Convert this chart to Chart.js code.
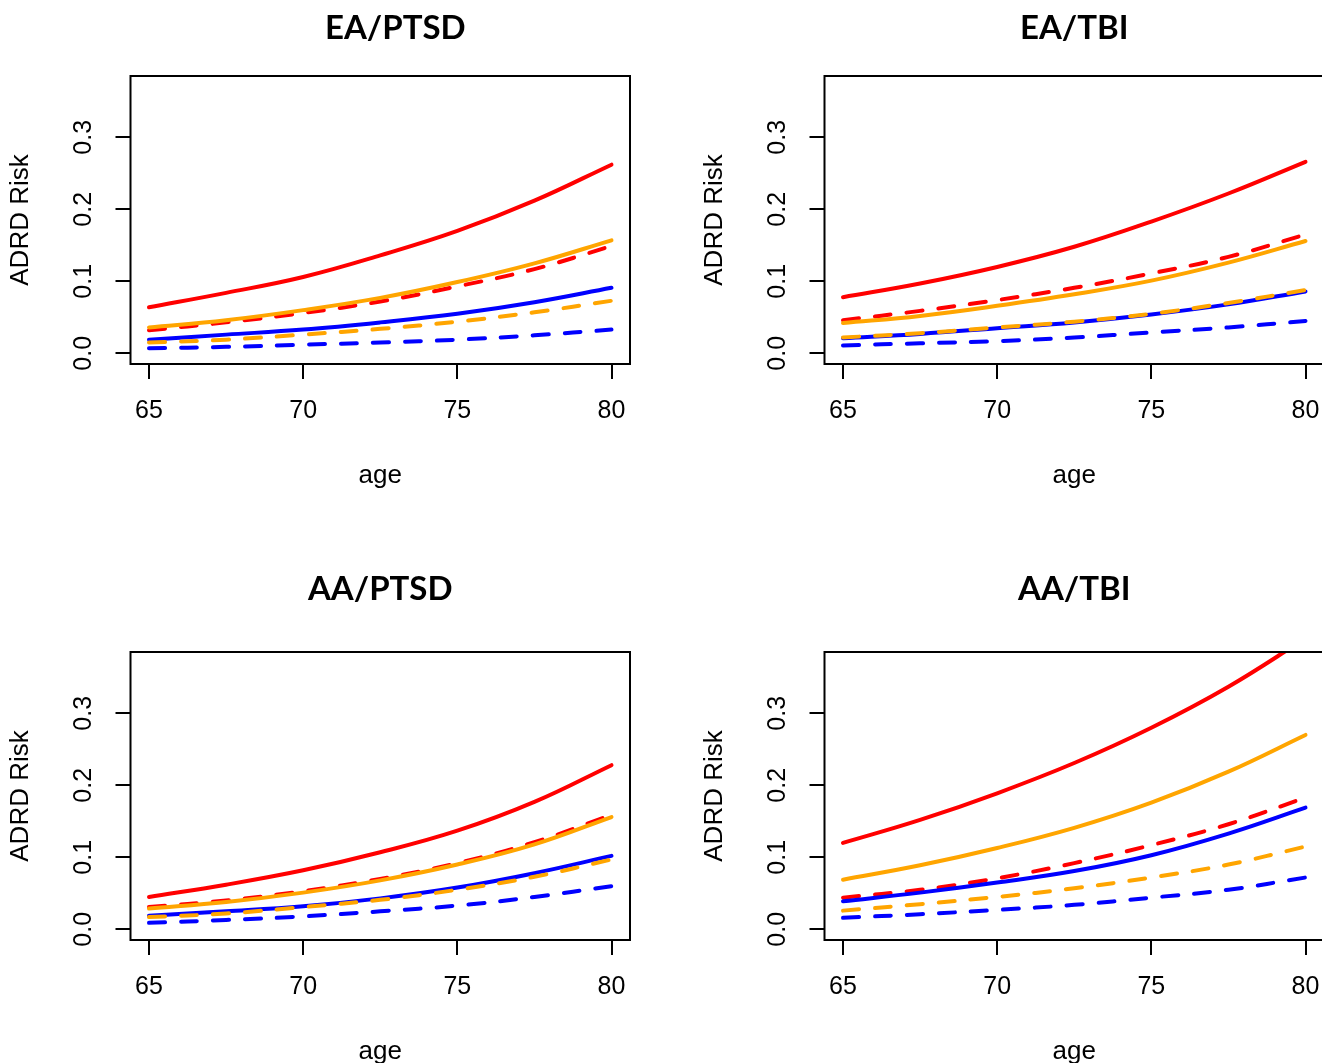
<!DOCTYPE html>
<html>
<head>
<meta charset="utf-8">
<script src="https://cdn.jsdelivr.net/npm/chart.js@4.4.1/dist/chart.umd.min.js"></script>
<style>
  html, body { margin: 0; padding: 0; background: #fff; overflow: hidden; }
  body { width: 1322px; height: 1063px; position: relative; }
  canvas { position: absolute; }
</style>
</head>
<body>
<canvas id="c1" width="661" height="576" style="left:0;top:0"></canvas>
<canvas id="c2" width="661" height="576" style="left:694px;top:0"></canvas>
<canvas id="c3" width="661" height="576" style="left:0;top:576px"></canvas>
<canvas id="c4" width="661" height="576" style="left:694px;top:576px"></canvas>
<script>
// ages the curves were read at
const ages = [65, 67.5, 70, 72.5, 75, 77.5, 80]
const xTicks = [65, 70, 75, 80]
const yTicks = [0, 0.1, 0.2, 0.3]
const panelTitles = ['EA/PTSD', 'EA/TBI', 'AA/PTSD', 'AA/TBI']

// EA/PTSD
const eaPtsdRed        = [0.064, 0.084, 0.106, 0.136, 0.170, 0.212, 0.262]
const eaPtsdRedDash    = [0.032, 0.043, 0.056, 0.072, 0.093, 0.117, 0.149]
const eaPtsdOrange     = [0.036, 0.046, 0.060, 0.077, 0.099, 0.125, 0.157]
const eaPtsdOrangeDash = [0.015, 0.019, 0.026, 0.034, 0.044, 0.057, 0.073]
const eaPtsdBlue       = [0.019, 0.026, 0.033, 0.043, 0.055, 0.071, 0.091]
const eaPtsdBlueDash   = [0.007, 0.009, 0.012, 0.015, 0.019, 0.025, 0.033]

// EA/TBI
const eaTbiRed        = [0.078, 0.097, 0.120, 0.148, 0.183, 0.222, 0.266]
const eaTbiRedDash    = [0.046, 0.059, 0.074, 0.091, 0.111, 0.134, 0.165]
const eaTbiOrange     = [0.042, 0.052, 0.066, 0.082, 0.101, 0.126, 0.156]
const eaTbiOrangeDash = [0.022, 0.028, 0.036, 0.044, 0.055, 0.070, 0.088]
const eaTbiBlue       = [0.021, 0.027, 0.035, 0.043, 0.054, 0.068, 0.086]
const eaTbiBlueDash   = [0.011, 0.014, 0.017, 0.022, 0.029, 0.036, 0.045]

// AA/PTSD
const aaPtsdRed        = [0.045, 0.062, 0.082, 0.107, 0.137, 0.177, 0.228]
const aaPtsdRedDash    = [0.031, 0.040, 0.053, 0.070, 0.092, 0.121, 0.159]
const aaPtsdOrange     = [0.029, 0.038, 0.051, 0.068, 0.090, 0.118, 0.156]
const aaPtsdOrangeDash = [0.017, 0.022, 0.031, 0.041, 0.055, 0.073, 0.097]
const aaPtsdBlue       = [0.019, 0.025, 0.032, 0.043, 0.058, 0.078, 0.102]
const aaPtsdBlueDash   = [0.009, 0.013, 0.018, 0.025, 0.033, 0.045, 0.060]

// AA/TBI
const aaTbiRed        = [0.120, 0.152, 0.189, 0.231, 0.280, 0.337, 0.404]
const aaTbiRedDash    = [0.044, 0.055, 0.071, 0.092, 0.117, 0.146, 0.183]
const aaTbiOrange     = [0.069, 0.089, 0.113, 0.141, 0.176, 0.219, 0.270]
const aaTbiOrangeDash = [0.026, 0.035, 0.045, 0.057, 0.072, 0.090, 0.115]
const aaTbiBlue       = [0.039, 0.051, 0.065, 0.081, 0.103, 0.133, 0.169]
const aaTbiBlueDash   = [0.016, 0.021, 0.027, 0.034, 0.044, 0.055, 0.072]

const RED = '#ff0000'
const ORANGE = '#ffa500'
const BLUE = '#0000ff'
const axisFont = 'Liberation Sans, Arial, sans-serif'

// panel title + full box around the plot region (R's box())
const panelDecor = {
  id: 'panelDecor',
  afterDraw(chart, args, opts) {
    const ctx = chart.ctx
    const a = chart.chartArea
    ctx.save()
    ctx.lineWidth = 2
    ctx.strokeStyle = '#000'
    ctx.strokeRect(a.left, a.top, a.right - a.left, a.bottom - a.top)
    ctx.font = 'bold 33px Lato, sans-serif'
    ctx.fillStyle = '#000'
    ctx.textAlign = 'center'
    ctx.textBaseline = 'middle'
    ctx.fillText(opts.text, (a.left + a.right) / 2 + opts.dx, opts.y)
    ctx.restore()
  }
}

function line(values, color, dashed) {
  return {
    data: ages.map((a, i) => ({ x: a, y: values[i] })),
    borderColor: color,
    borderWidth: 4,
    borderDash: dashed ? [16, 16] : [],
    borderCapStyle: 'round',
    borderJoinStyle: 'round',
    tension: 0.4,
    pointRadius: 0,
    fill: false
  }
}

function makeChart(id, title, dx, ty, s) {
  // first dataset is painted last (on top)
  const datasets = [
    line(s.orangeDash, ORANGE, true),
    line(s.orange, ORANGE, false),
    line(s.blueDash, BLUE, true),
    line(s.blue, BLUE, false),
    line(s.redDash, RED, true),
    line(s.red, RED, false)
  ]

  return new Chart(document.getElementById(id), {
    type: 'line',
    data: { datasets },
    plugins: [panelDecor],
    options: {
      responsive: false,
      animation: false,
      devicePixelRatio: 1,
      layout: { padding: { left: 0, top: 76, right: 31, bottom: 0 } },
      plugins: {
        legend: { display: false },
        tooltip: { enabled: false },
        panelDecor: { text: title, dx: dx, y: ty }
      },
      scales: {
        x: {
          type: 'linear',
          min: 64.4,
          max: 80.6,
          afterBuildTicks: sc => { sc.ticks = xTicks.map(v => ({ value: v })) },
          afterFit: sc => { sc.height = 212 },
          border: { display: false },
          grid: { drawOnChartArea: false, color: '#000', lineWidth: 2, tickLength: 15 },
          ticks: {
            color: '#000',
            font: { family: axisFont, size: 25 },
            padding: 17,
            maxRotation: 0,
            autoSkip: false
          },
          title: {
            display: true,
            text: 'age',
            color: '#000',
            font: { family: axisFont, size: 26 },
            padding: { top: 0, bottom: 85 }
          }
        },
        y: {
          type: 'linear',
          min: -0.0148,
          max: 0.3852,
          afterBuildTicks: sc => { sc.ticks = yTicks.map(v => ({ value: v })) },
          afterFit: sc => { sc.width = 130.5 },
          border: { display: false },
          grid: { drawOnChartArea: false, color: '#000', lineWidth: 2, tickLength: 15 },
          ticks: {
            color: '#000',
            font: { family: axisFont, size: 25 },
            padding: 14,
            minRotation: 90,
            maxRotation: 90,
            crossAlign: 'center',
            autoSkip: false,
            callback: v => v.toFixed(1)
          },
          title: {
            display: true,
            text: 'ADRD Risk',
            color: '#000',
            font: { family: axisFont, size: 26 },
            padding: { top: 5, bottom: 0 }
          }
        }
      }
    }
  })
}

function drawAll() {
  makeChart('c1', panelTitles[0], 15, 28, {
    red: eaPtsdRed, redDash: eaPtsdRedDash, orange: eaPtsdOrange,
    orangeDash: eaPtsdOrangeDash, blue: eaPtsdBlue, blueDash: eaPtsdBlueDash
  })
  makeChart('c2', panelTitles[1], 0, 28, {
    red: eaTbiRed, redDash: eaTbiRedDash, orange: eaTbiOrange,
    orangeDash: eaTbiOrangeDash, blue: eaTbiBlue, blueDash: eaTbiBlueDash
  })
  makeChart('c3', panelTitles[2], 0, 13, {
    red: aaPtsdRed, redDash: aaPtsdRedDash, orange: aaPtsdOrange,
    orangeDash: aaPtsdOrangeDash, blue: aaPtsdBlue, blueDash: aaPtsdBlueDash
  })
  makeChart('c4', panelTitles[3], 0, 13, {
    red: aaTbiRed, redDash: aaTbiRedDash, orange: aaTbiOrange,
    orangeDash: aaTbiOrangeDash, blue: aaTbiBlue, blueDash: aaTbiBlueDash
  })
}

if (document.fonts && document.fonts.load) {
  Promise.all([
    document.fonts.load('bold 33px Lato'),
    document.fonts.load('25px "Liberation Sans"')
  ]).then(drawAll, drawAll)
} else {
  drawAll()
}
</script>
</body>
</html>
